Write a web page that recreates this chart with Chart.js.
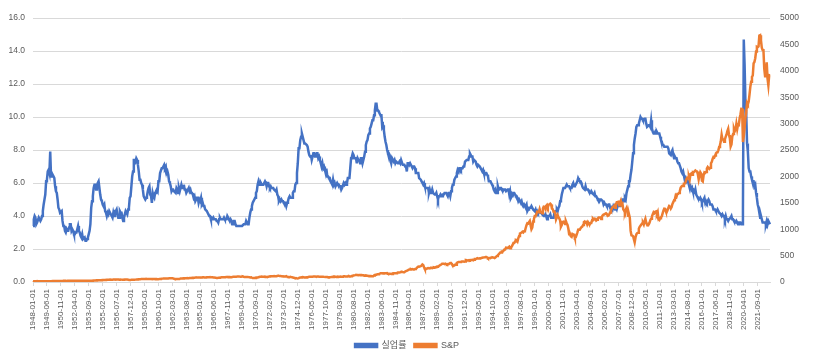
<!DOCTYPE html>
<html>
<head>
<meta charset="utf-8">
<script src="https://cdn.jsdelivr.net/npm/chart.js@4"></script>
<style>
  html, body { margin: 0; padding: 0; background: #fff; }
  #wrap { width: 814px; height: 360px; position: relative; }
</style>
</head>
<body>
<div id="wrap"><canvas id="mainChart"></canvas></div>
<script>
// monthly data, 1948-01 .. 2022-12

const START_YEAR = 1948;
const END_YEAR = 2022;
const LABEL_STEP = 17; // excel shows every 17th category

const seriesNames = ["실업률", "S&P"];

const leftTicks = [0, 2, 4, 6, 8, 10, 12, 14, 16];
const rightTicks = [0, 500, 1000, 1500, 2000, 2500, 3000, 3500, 4000, 4500, 5000];

const unemploymentRate = [
  3.4, 3.8, 4.0, 3.9, 3.5, 3.6, 3.6, 3.9, 3.8, 3.7, 3.8, 4.0, // 1948
  4.3, 4.7, 5.0, 5.3, 6.1, 6.2, 6.7, 6.8, 6.6, 7.9, 6.4, 6.6,
  6.5, 6.4, 6.3, 5.8, 5.5, 5.4, 5.0, 4.5, 4.4, 4.2, 4.2, 4.3, // 1950
  3.7, 3.4, 3.4, 3.1, 3.0, 3.2, 3.1, 3.1, 3.3, 3.5, 3.5, 3.1,
  3.2, 3.1, 2.9, 2.9, 3.0, 3.0, 3.2, 3.4, 3.1, 3.0, 2.8, 2.7,
  2.9, 2.6, 2.6, 2.7, 2.5, 2.5, 2.6, 2.7, 2.9, 3.1, 3.5, 4.5,
  4.9, 5.2, 5.7, 5.9, 5.9, 5.6, 5.8, 6.0, 6.1, 5.7, 5.3, 5.0,
  4.9, 4.7, 4.6, 4.7, 4.3, 4.2, 4.0, 4.2, 4.1, 4.3, 4.2, 4.2, // 1955
  4.0, 3.9, 4.2, 4.0, 4.3, 4.3, 4.4, 4.1, 3.9, 3.9, 4.3, 4.2,
  4.2, 3.9, 3.7, 3.9, 4.1, 4.3, 4.2, 4.1, 4.4, 4.5, 5.1, 5.2,
  5.8, 6.4, 6.7, 7.4, 7.4, 7.3, 7.5, 7.4, 7.1, 6.7, 6.2, 6.2,
  6.0, 5.9, 5.6, 5.2, 5.1, 5.0, 5.1, 5.2, 5.5, 5.7, 5.8, 5.3,
  5.2, 4.8, 5.4, 5.2, 5.1, 5.4, 5.5, 5.6, 5.5, 6.1, 6.1, 6.6, // 1960
  6.6, 6.9, 6.9, 7.0, 7.1, 6.9, 7.0, 6.6, 6.7, 6.5, 6.1, 6.0,
  5.8, 5.5, 5.6, 5.6, 5.5, 5.5, 5.4, 5.7, 5.6, 5.4, 5.7, 5.5,
  5.7, 5.9, 5.7, 5.7, 5.9, 5.6, 5.6, 5.4, 5.5, 5.5, 5.7, 5.5,
  5.6, 5.4, 5.4, 5.3, 5.1, 5.2, 4.9, 5.0, 5.1, 5.1, 4.8, 5.0,
  4.9, 5.1, 4.7, 4.8, 4.6, 4.6, 4.4, 4.4, 4.3, 4.2, 4.1, 4.0, // 1965
  4.0, 3.8, 3.8, 3.8, 3.9, 3.8, 3.8, 3.8, 3.7, 3.7, 3.6, 3.8,
  3.9, 3.8, 3.8, 3.8, 3.8, 3.9, 3.8, 3.8, 3.8, 4.0, 3.9, 3.8,
  3.7, 3.8, 3.7, 3.5, 3.5, 3.7, 3.7, 3.5, 3.4, 3.4, 3.4, 3.4,
  3.4, 3.4, 3.4, 3.4, 3.4, 3.5, 3.5, 3.5, 3.7, 3.7, 3.5, 3.5,
  3.9, 4.2, 4.4, 4.6, 4.8, 4.9, 5.0, 5.1, 5.4, 5.5, 5.9, 6.1, // 1970
  5.9, 5.9, 6.0, 5.9, 5.9, 5.9, 6.0, 6.1, 6.0, 5.8, 6.0, 6.0,
  5.8, 5.7, 5.8, 5.7, 5.7, 5.7, 5.6, 5.6, 5.5, 5.6, 5.3, 5.2,
  4.9, 5.0, 4.9, 5.0, 4.9, 4.9, 4.8, 4.8, 4.8, 4.6, 4.8, 4.9,
  5.1, 5.2, 5.1, 5.1, 5.1, 5.4, 5.5, 5.5, 5.9, 6.0, 6.6, 7.2,
  8.1, 8.1, 8.6, 8.8, 9.0, 8.8, 8.6, 8.4, 8.4, 8.4, 8.3, 8.2, // 1975
  7.9, 7.7, 7.6, 7.7, 7.4, 7.6, 7.8, 7.8, 7.6, 7.7, 7.8, 7.8,
  7.5, 7.6, 7.4, 7.2, 7.0, 7.2, 6.9, 7.0, 6.8, 6.8, 6.8, 6.4,
  6.4, 6.3, 6.3, 6.1, 6.0, 5.9, 6.2, 5.9, 6.0, 5.8, 5.9, 6.0,
  5.9, 5.9, 5.8, 5.8, 5.6, 5.7, 5.7, 6.0, 5.9, 6.0, 5.9, 6.0,
  6.3, 6.3, 6.3, 6.9, 7.5, 7.6, 7.8, 7.7, 7.5, 7.5, 7.5, 7.2, // 1980
  7.5, 7.4, 7.4, 7.2, 7.5, 7.5, 7.2, 7.4, 7.6, 7.9, 8.3, 8.5,
  8.6, 8.9, 9.0, 9.3, 9.4, 9.6, 9.8, 9.8, 10.1, 10.4, 10.8, 10.8,
  10.4, 10.4, 10.3, 10.2, 10.1, 10.1, 9.4, 9.5, 9.2, 8.8, 8.5, 8.3,
  8.0, 7.8, 7.8, 7.7, 7.4, 7.2, 7.5, 7.5, 7.3, 7.4, 7.2, 7.3,
  7.3, 7.2, 7.2, 7.3, 7.2, 7.4, 7.4, 7.1, 7.1, 7.1, 7.0, 7.0, // 1985
  6.7, 7.2, 7.2, 7.1, 7.2, 7.2, 7.0, 6.9, 7.0, 7.0, 6.9, 6.6,
  6.6, 6.6, 6.6, 6.3, 6.3, 6.2, 6.1, 6.0, 5.9, 6.0, 5.8, 5.7,
  5.7, 5.7, 5.7, 5.4, 5.6, 5.4, 5.4, 5.6, 5.4, 5.4, 5.3, 5.3,
  5.4, 5.2, 5.0, 5.2, 5.2, 5.3, 5.2, 5.2, 5.3, 5.3, 5.4, 5.4,
  5.4, 5.3, 5.2, 5.4, 5.4, 5.2, 5.5, 5.7, 5.9, 5.9, 6.2, 6.3, // 1990
  6.4, 6.6, 6.8, 6.7, 6.9, 6.9, 6.8, 6.9, 6.9, 7.0, 7.0, 7.3,
  7.3, 7.4, 7.4, 7.4, 7.6, 7.8, 7.7, 7.6, 7.6, 7.3, 7.4, 7.4,
  7.3, 7.1, 7.0, 7.1, 7.1, 7.0, 6.9, 6.8, 6.7, 6.8, 6.6, 6.5,
  6.6, 6.6, 6.5, 6.4, 6.1, 6.1, 6.1, 6.0, 5.9, 5.8, 5.6, 5.5,
  5.6, 5.4, 5.4, 5.8, 5.6, 5.6, 5.7, 5.7, 5.6, 5.5, 5.6, 5.6, // 1995
  5.6, 5.5, 5.5, 5.6, 5.6, 5.3, 5.5, 5.1, 5.2, 5.2, 5.4, 5.4,
  5.3, 5.2, 5.2, 5.1, 4.9, 5.0, 4.9, 4.8, 4.9, 4.7, 4.6, 4.7,
  4.6, 4.6, 4.7, 4.3, 4.4, 4.5, 4.5, 4.5, 4.6, 4.5, 4.4, 4.4,
  4.3, 4.4, 4.2, 4.3, 4.2, 4.3, 4.3, 4.2, 4.2, 4.1, 4.1, 4.0,
  4.0, 4.1, 4.0, 3.8, 4.0, 4.0, 4.0, 4.1, 3.9, 3.9, 3.9, 3.9, // 2000
  4.2, 4.2, 4.3, 4.4, 4.3, 4.5, 4.6, 4.9, 5.0, 5.3, 5.5, 5.7,
  5.7, 5.7, 5.7, 5.9, 5.8, 5.8, 5.8, 5.7, 5.7, 5.7, 5.9, 6.0,
  5.8, 5.9, 5.9, 6.0, 6.1, 6.3, 6.2, 6.1, 6.1, 6.0, 5.8, 5.7,
  5.7, 5.6, 5.8, 5.6, 5.6, 5.6, 5.5, 5.4, 5.4, 5.5, 5.4, 5.4,
  5.3, 5.4, 5.2, 5.2, 5.1, 5.0, 5.0, 4.9, 5.0, 5.0, 5.0, 4.9, // 2005
  4.7, 4.8, 4.7, 4.7, 4.6, 4.6, 4.7, 4.7, 4.5, 4.4, 4.5, 4.4,
  4.6, 4.5, 4.4, 4.5, 4.4, 4.6, 4.7, 4.6, 4.7, 4.7, 4.7, 5.0,
  5.0, 4.9, 5.1, 5.0, 5.4, 5.6, 5.8, 6.1, 6.1, 6.5, 6.8, 7.3,
  7.8, 8.3, 8.7, 9.0, 9.4, 9.5, 9.5, 9.6, 9.8, 10.0, 9.9, 9.9,
  9.8, 9.8, 9.9, 9.9, 9.6, 9.4, 9.4, 9.5, 9.5, 9.4, 9.8, 9.3, // 2010
  9.1, 9.0, 9.0, 9.1, 9.0, 9.1, 9.0, 9.0, 9.0, 8.8, 8.6, 8.5,
  8.3, 8.3, 8.2, 8.2, 8.2, 8.2, 8.2, 8.1, 7.8, 7.8, 7.7, 7.9,
  8.0, 7.7, 7.5, 7.6, 7.5, 7.5, 7.3, 7.2, 7.2, 7.2, 6.9, 6.7,
  6.6, 6.7, 6.7, 6.2, 6.3, 6.1, 6.2, 6.1, 5.9, 5.7, 5.8, 5.6,
  5.7, 5.5, 5.4, 5.4, 5.6, 5.3, 5.2, 5.1, 5.0, 5.0, 5.1, 5.0, // 2015
  4.8, 4.9, 5.0, 5.1, 4.8, 4.9, 4.8, 4.9, 5.0, 4.9, 4.7, 4.7,
  4.7, 4.6, 4.4, 4.4, 4.4, 4.3, 4.3, 4.4, 4.3, 4.2, 4.2, 4.1,
  4.0, 4.1, 4.0, 4.0, 3.8, 4.0, 3.8, 3.8, 3.7, 3.8, 3.8, 3.9,
  4.0, 3.8, 3.8, 3.7, 3.6, 3.6, 3.7, 3.6, 3.5, 3.6, 3.6, 3.6,
  3.5, 3.5, 4.4, 14.7, 13.2, 11.0, 10.2, 8.4, 7.9, 6.9, 6.7, 6.7, // 2020
  6.4, 6.2, 6.1, 6.1, 5.8, 5.9, 5.4, 5.1, 4.7, 4.5, 4.2, 3.9,
  4.0, 3.8, 3.6, 3.6, 3.6, 3.6, 3.5, 3.7, 3.5, 3.7, 3.6, 3.5
];

const sp500 = [
  15, 14, 14, 15, 16, 17, 16, 16, 16, 16, 15, 15, // 1948
  15, 15, 15, 15, 15, 14, 15, 15, 16, 16, 16, 16,
  17, 17, 17, 18, 18, 19, 17, 18, 19, 20, 20, 20, // 1950
  21, 22, 21, 22, 22, 21, 22, 23, 23, 23, 22, 23,
  24, 24, 23, 24, 23, 24, 25, 25, 25, 24, 25, 26,
  26, 26, 26, 25, 25, 24, 24, 24, 23, 24, 24, 25,
  25, 26, 27, 28, 29, 29, 31, 31, 32, 32, 34, 35,
  36, 37, 36, 38, 38, 40, 43, 42, 44, 42, 45, 45, // 1955
  44, 44, 47, 48, 46, 46, 48, 48, 46, 46, 45, 46,
  45, 44, 44, 45, 47, 48, 48, 46, 44, 41, 40, 40,
  41, 41, 42, 42, 44, 45, 46, 47, 49, 51, 52, 54,
  55, 55, 57, 57, 58, 57, 60, 59, 57, 57, 57, 59,
  58, 55, 55, 56, 55, 57, 55, 56, 54, 53, 55, 56, // 1960
  60, 62, 64, 66, 66, 66, 65, 68, 67, 68, 71, 71,
  69, 70, 70, 68, 62, 56, 56, 58, 58, 56, 60, 62,
  65, 66, 65, 68, 70, 70, 69, 70, 72, 73, 72, 75,
  77, 78, 78, 80, 81, 81, 83, 83, 84, 85, 85, 84,
  86, 87, 86, 88, 89, 85, 84, 86, 89, 91, 92, 92, // 1965
  93, 92, 89, 91, 86, 86, 86, 80, 77, 77, 80, 81,
  84, 87, 89, 91, 92, 91, 93, 94, 96, 95, 92, 95,
  95, 90, 89, 95, 98, 100, 100, 98, 101, 103, 105, 106,
  102, 101, 99, 102, 104, 99, 95, 94, 95, 97, 97, 92,
  90, 87, 89, 85, 76, 75, 75, 77, 82, 84, 84, 90, // 1970
  94, 98, 100, 103, 101, 99, 99, 97, 99, 97, 92, 100,
  103, 106, 108, 109, 107, 108, 107, 111, 109, 109, 115, 117,
  118, 114, 112, 110, 107, 105, 106, 104, 105, 110, 103, 97,
  97, 93, 97, 92, 89, 89, 82, 77, 68, 69, 71, 67,
  73, 80, 84, 84, 90, 93, 92, 85, 85, 88, 90, 88, // 1975
  97, 100, 101, 101, 101, 101, 104, 103, 105, 102, 101, 104,
  104, 101, 100, 99, 98, 100, 100, 97, 96, 93, 95, 94,
  90, 88, 89, 93, 97, 97, 97, 103, 103, 98, 95, 96,
  100, 98, 100, 102, 99, 101, 102, 107, 108, 104, 103, 107,
  110, 115, 104, 103, 108, 114, 119, 123, 126, 130, 135, 133, // 1980
  133, 128, 133, 134, 131, 133, 129, 129, 118, 119, 124, 123,
  117, 114, 110, 116, 116, 109, 109, 109, 122, 133, 137, 139,
  145, 146, 151, 157, 164, 166, 166, 162, 167, 167, 165, 164,
  167, 157, 157, 158, 155, 153, 151, 164, 166, 166, 166, 164,
  171, 180, 180, 180, 184, 189, 192, 188, 185, 186, 197, 208, // 1985
  208, 219, 232, 238, 237, 245, 240, 245, 238, 237, 245, 248,
  265, 281, 292, 289, 289, 301, 310, 330, 319, 280, 245, 241,
  250, 258, 265, 262, 257, 270, 269, 263, 268, 278, 274, 276,
  285, 294, 292, 302, 314, 323, 332, 345, 347, 347, 340, 348,
  340, 331, 339, 338, 350, 361, 361, 335, 316, 307, 315, 328, // 1990
  326, 362, 372, 379, 378, 378, 381, 389, 388, 388, 385, 388,
  416, 412, 407, 407, 414, 408, 415, 417, 419, 412, 423, 435,
  436, 442, 450, 443, 445, 448, 447, 455, 459, 463, 463, 466,
  473, 472, 464, 448, 453, 455, 453, 465, 466, 467, 462, 455,
  465, 481, 493, 507, 524, 540, 558, 559, 578, 578, 595, 614, // 1995
  614, 649, 647, 648, 659, 671, 640, 653, 672, 702, 738, 738,
  766, 798, 793, 768, 830, 872, 918, 928, 937, 952, 939, 962,
  963, 1023, 1076, 1112, 1108, 1108, 1156, 1075, 1000, 1032, 1144, 1190,
  1248, 1246, 1282, 1334, 1332, 1323, 1380, 1328, 1318, 1300, 1391, 1428,
  1425, 1388, 1442, 1461, 1419, 1462, 1473, 1485, 1468, 1390, 1379, 1330, // 2000
  1335, 1305, 1186, 1186, 1267, 1225, 1205, 1162, 1046, 1077, 1129, 1144,
  1140, 1100, 1153, 1112, 1079, 1014, 903, 912, 867, 854, 909, 899,
  895, 837, 846, 890, 936, 988, 992, 990, 1019, 1039, 1050, 1080,
  1132, 1144, 1124, 1134, 1091, 1132, 1106, 1088, 1118, 1118, 1168, 1199,
  1181, 1199, 1195, 1164, 1178, 1202, 1222, 1224, 1225, 1192, 1237, 1262, // 2005
  1278, 1277, 1293, 1302, 1290, 1253, 1260, 1287, 1318, 1363, 1389, 1416,
  1424, 1444, 1407, 1463, 1511, 1515, 1520, 1455, 1497, 1539, 1463, 1480,
  1378, 1354, 1317, 1371, 1404, 1341, 1257, 1282, 1217, 968, 883, 877,
  866, 806, 757, 848, 902, 926, 935, 1010, 1045, 1067, 1088, 1110,
  1123, 1089, 1152, 1197, 1126, 1083, 1079, 1087, 1122, 1171, 1199, 1242, // 2010
  1282, 1321, 1304, 1331, 1338, 1287, 1325, 1185, 1173, 1207, 1226, 1244,
  1300, 1352, 1389, 1386, 1341, 1323, 1359, 1403, 1443, 1437, 1394, 1422,
  1480, 1512, 1550, 1570, 1639, 1619, 1669, 1670, 1687, 1720, 1783, 1807,
  1822, 1817, 1863, 1864, 1890, 1947, 1973, 1961, 1993, 1937, 2045, 2055,
  2029, 2083, 2080, 2095, 2111, 2099, 2094, 2039, 1944, 2024, 2080, 2054, // 2015
  1918, 1904, 2022, 2075, 2066, 2083, 2149, 2177, 2158, 2143, 2165, 2247,
  2275, 2330, 2367, 2359, 2395, 2434, 2454, 2456, 2493, 2557, 2594, 2664,
  2790, 2705, 2703, 2654, 2701, 2754, 2794, 2858, 2902, 2785, 2723, 2567,
  2607, 2754, 2804, 2904, 2855, 2890, 2997, 2898, 2983, 2977, 3104, 3176,
  3278, 3277, 2652, 2762, 2920, 3105, 3208, 3392, 3365, 3418, 3549, 3695, // 2020
  3793, 3884, 3911, 4141, 4168, 4238, 4364, 4454, 4445, 4461, 4667, 4675,
  4574, 4436, 4392, 4391, 4040, 3899, 3912, 4159, 3851, 3726, 3917, 3913
];

// category labels, one per month
const months = [];
for (let y = START_YEAR; y <= END_YEAR; y++) {
  for (let m = 1; m <= 12; m++) {
    months.push(y + "-" + String(m).padStart(2, "0") + "-01");
  }
}

const FONT = "'Liberation Sans', 'Noto Sans CJK KR', sans-serif";
const TEXT = "#595959";
const GRID = "#d9d9d9";
const BLUE = "#4472c4";
const ORANGE = "#ed7d31";

new Chart(document.getElementById("mainChart"), {
  type: "line",
  data: {
    labels: months,
    datasets: [
      {
        label: seriesNames[0],
        data: unemploymentRate,
        yAxisID: "y",
        borderColor: BLUE,
        backgroundColor: BLUE,
        borderWidth: 2.5,
        pointRadius: 0,
        tension: 0,
        order: 1,
      },
      {
        label: seriesNames[1],
        data: sp500,
        yAxisID: "y1",
        borderColor: ORANGE,
        backgroundColor: ORANGE,
        borderWidth: 2.5,
        pointRadius: 0,
        tension: 0,
        order: 0, // drawn on top like the secondary axis in excel
      },
    ],
  },
  options: {
    responsive: true,
    maintainAspectRatio: false,
    animation: false,
    events: [],
    layout: { padding: { top: 18, left: 0, right: 0, bottom: 0 } },
    plugins: {
      legend: {
        position: "bottom",
        labels: {
          boxWidth: 22,
          boxHeight: 3,
          padding: 8,
          color: TEXT,
          font: { size: 9, family: FONT },
          sort: (a, b) => a.datasetIndex - b.datasetIndex,
        },
      },
      tooltip: { enabled: false },
    },
    scales: {
      x: {
        type: "category",
        afterFit: (s) => { s.height = 51; },
        ticks: {
          autoSkip: false,
          minRotation: 90,
          maxRotation: 90,
          padding: 3,
          sampleSize: 60,
          color: TEXT,
          font: { size: 8, family: FONT },
          callback: (v, i) => (i % LABEL_STEP === 0 ? months[i] : null),
        },
        grid: {
          drawOnChartArea: false,
          drawTicks: true,
          tickLength: 4,
          color: GRID,
        },
        border: { color: GRID },
      },
      y: {
        position: "left",
        min: leftTicks[0],
        max: leftTicks[leftTicks.length - 1],
        afterFit: (s) => { s.width = 33; },
        afterBuildTicks: (s) => { s.ticks = leftTicks.map((v) => ({ value: v })); },
        ticks: {
          padding: 8,
          color: TEXT,
          font: { size: 8.5, family: FONT },
          callback: (v) => Number(v).toFixed(1),
        },
        grid: { color: GRID, drawTicks: false },
        border: { display: false },
      },
      y1: {
        position: "right",
        min: rightTicks[0],
        max: rightTicks[rightTicks.length - 1],
        afterFit: (s) => { s.width = 44; },
        afterBuildTicks: (s) => { s.ticks = rightTicks.map((v) => ({ value: v })); },
        ticks: {
          padding: 10,
          color: TEXT,
          font: { size: 8.5, family: FONT },
          callback: (v) => String(v),
        },
        grid: { drawOnChartArea: false, drawTicks: false },
        border: { display: false },
      },
    },
  },
});
</script>
</body>
</html>
